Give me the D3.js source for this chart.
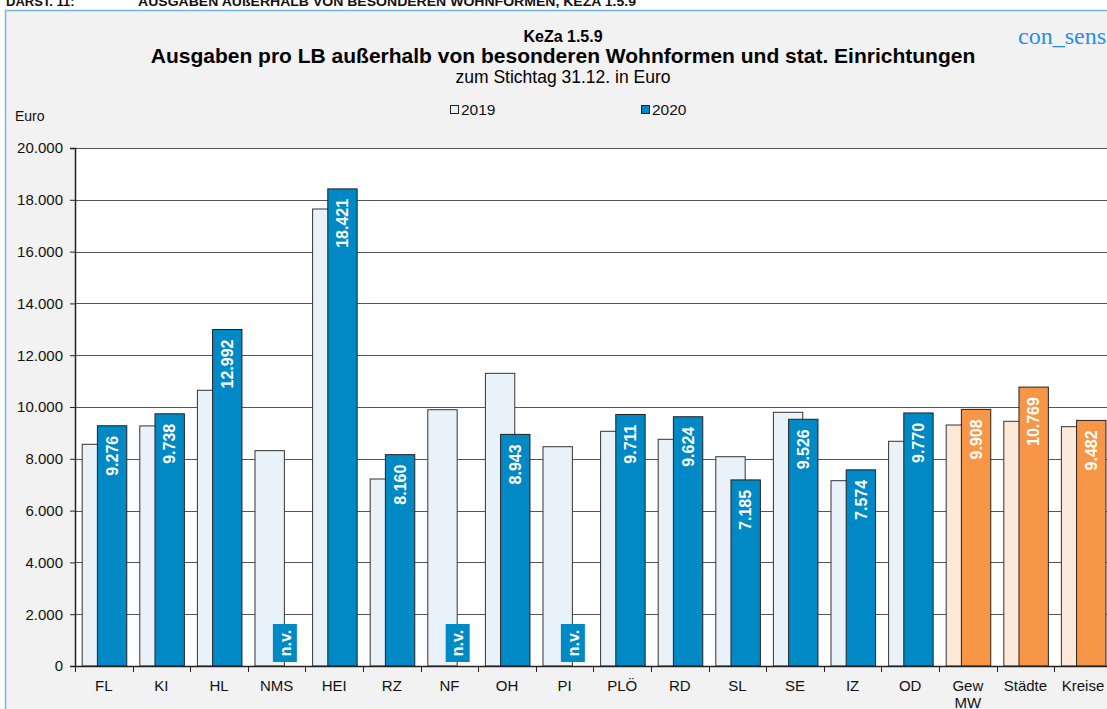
<!DOCTYPE html>
<html>
<head>
<meta charset="utf-8">
<script src="https://cdn.jsdelivr.net/npm/d3@7"></script>
<style>
  html, body { margin: 0; padding: 0; background: #fff; }
  svg { display: block; font-family: "Liberation Sans", Arial, sans-serif; }
</style>
</head>
<body>
<svg id="chart" width="1107" height="709"></svg>
<script>
// Werte
const categories = ["FL", "KI", "HL", "NMS", "HEI", "RZ", "NF", "OH", "PI", "PLÖ", "RD", "SL", "SE", "IZ", "OD", "Gew MW", "Städte", "Kreise"];
const values2019 = [8560, 9270, 10645, 8315, 17645, 7220, 9895, 11300, 8467, 9062, 8753, 8081, 9795, 7155, 8676, 9305, 9448, 9240];
const values2020 = [9276, 9738, 12992, null, 18421, 8160, null, 8943, null, 9711, 9624, 7185, 9526, 7574, 9770, 9908, 10769, 9482];
const summaryCats = ["Gew MW", "Städte", "Kreise"];
const seriesNames = ["2019", "2020"];
const yTicks = [0, 2000, 4000, 6000, 8000, 10000, 12000, 14000, 16000, 18000, 20000];

const de = d3.formatLocale({ decimal: ",", thousands: ".", grouping: [3], currency: ["", " €"] });
const fmt = de.format(",d");

const colors = {
    blue: "#0089c4", blueLight: "#eaf2f9",
    orange: "#f79646", orangeLight: "#fde9d9"
};

const svg = d3.select("#chart");

// Kopfzeile (oben abgeschnitten)
svg.append("text").attr("x", 6).attr("y", 6)
    .attr("font-size", 13).attr("font-weight", "bold").attr("fill", "#111")
    .text("DARST. 11:");
svg.append("text").attr("x", 138).attr("y", 6)
    .attr("font-size", 13).attr("font-weight", "bold").attr("fill", "#111")
    .attr("textLength", 498).attr("lengthAdjust", "spacingAndGlyphs")
    .text("AUSGABEN AUßERHALB VON BESONDEREN WOHNFORMEN, KEZA 1.5.9");

// Diagrammrahmen
svg.append("rect")
    .attr("x", 5.5).attr("y", 10.5)
    .attr("width", 1120).attr("height", 720)
    .attr("fill", "#f2f2f2")
    .attr("stroke", "#6cb8e0").attr("stroke-width", 1.5);

// Titel
svg.append("text").attr("x", 563).attr("y", 42)
    .attr("text-anchor", "middle").attr("font-size", 16).attr("font-weight", "bold")
    .text("KeZa 1.5.9");
svg.append("text").attr("x", 563).attr("y", 63)
    .attr("text-anchor", "middle").attr("font-size", 21).attr("font-weight", "bold")
    .text("Ausgaben pro LB außerhalb von besonderen Wohnformen und stat. Einrichtungen");
svg.append("text").attr("x", 563).attr("y", 83)
    .attr("text-anchor", "middle").attr("font-size", 17.5)
    .text("zum Stichtag 31.12. in Euro");
svg.append("text").attr("x", 1018).attr("y", 44)
    .attr("font-family", "'Liberation Serif', 'Times New Roman', serif")
    .attr("font-size", 24).attr("fill", "#1f8ff0")
    .text("con_sens");

// Legende
const legendX = [450, 641];
seriesNames.forEach((name, i) => {
    svg.append("rect")
        .attr("x", legendX[i] + 0.5).attr("y", 105.5)
        .attr("width", 8).attr("height", 8)
        .attr("fill", i === 0 ? colors.blueLight : colors.blue)
        .attr("stroke", "#222").attr("stroke-width", 1);
    svg.append("text")
        .attr("x", legendX[i] + 11).attr("y", 114.5)
        .attr("font-size", 15.5).attr("fill", "#111")
        .text(name);
});

svg.append("text").attr("x", 15).attr("y", 121)
    .attr("font-size", 14).attr("fill", "#111").text("Euro");

// Skalen
const plot = { left: 75, right: 75 + 18 * 57.6, top: 148, bottom: 666 };

const x = d3.scaleBand()
    .domain(categories)
    .range([plot.left, plot.right])
    .paddingInner(0).paddingOuter(0);

const y = d3.scaleLinear()
    .domain([0, 20000])
    .range([plot.bottom, plot.top]);

const bw = x.bandwidth();
const barW = bw * 0.51;
const offset19 = bw * 0.125;
const offset20 = offset19 + barW / 2 + 0.5;

// Zeichenfläche
svg.append("rect")
    .attr("x", plot.left).attr("y", plot.top)
    .attr("width", plot.right - plot.left).attr("height", plot.bottom - plot.top)
    .attr("fill", "#fff");

svg.append("g")
    .selectAll("line")
    .data(yTicks.filter(d => d > 0))
    .join("line")
    .attr("x1", plot.left).attr("x2", plot.right)
    .attr("y1", d => Math.round(y(d)) + 0.5).attr("y2", d => Math.round(y(d)) + 0.5)
    .attr("stroke", "#555").attr("stroke-width", 1);

// Balken 2019
svg.append("g")
    .selectAll("rect")
    .data(categories.map((c, i) => ({ c, v: values2019[i] })))
    .join("rect")
    .attr("x", d => x(d.c) + offset19)
    .attr("y", d => y(d.v))
    .attr("width", barW)
    .attr("height", d => y(0) - y(d.v))
    .attr("fill", d => summaryCats.includes(d.c) ? colors.orangeLight : colors.blueLight)
    .attr("stroke", "#333").attr("stroke-width", 1);

// Balken 2020
const data2020 = categories.map((c, i) => ({ c, v: values2020[i] }));

svg.append("g")
    .selectAll("rect")
    .data(data2020.filter(d => d.v != null))
    .join("rect")
    .attr("x", d => x(d.c) + offset20)
    .attr("y", d => y(d.v))
    .attr("width", barW)
    .attr("height", d => y(0) - y(d.v))
    .attr("fill", d => summaryCats.includes(d.c) ? colors.orange : colors.blue)
    .attr("stroke", "#222").attr("stroke-width", 1);

// Datenbeschriftungen
svg.append("g")
    .selectAll("text")
    .data(data2020.filter(d => d.v != null))
    .join("text")
    .attr("transform", d => `translate(${x(d.c) + offset20 + barW / 2},${y(d.v) + 10}) rotate(-90)`)
    .attr("text-anchor", "end")
    .attr("dy", "0.36em")
    .attr("font-size", 16).attr("font-weight", "bold").attr("fill", "#fff")
    .text(d => fmt(d.v));

// n.v. Kennzeichnung
const nv = svg.append("g")
    .selectAll("g")
    .data(data2020.filter(d => d.v == null))
    .join("g")
    .attr("transform", d => `translate(${x(d.c) + offset20 + barW / 2},${y(0) - 4})`);
nv.append("rect")
    .attr("x", -12).attr("y", -38)
    .attr("width", 24).attr("height", 38)
    .attr("fill", colors.blue);
nv.append("text")
    .attr("transform", "translate(0,-19) rotate(-90)")
    .attr("text-anchor", "middle").attr("dy", "0.36em")
    .attr("font-size", 16).attr("font-weight", "bold").attr("fill", "#fff")
    .text("n.v.");

// Achsen
const yAxis = svg.append("g")
    .attr("transform", `translate(${plot.left},0)`)
    .call(d3.axisLeft(y).tickValues(yTicks).tickFormat(fmt).tickSize(5).tickPadding(7));
yAxis.select(".domain").attr("stroke", "#222").attr("stroke-width", 1.5);
yAxis.selectAll(".tick line").attr("stroke", "#222");
yAxis.selectAll(".tick text").attr("font-size", 15).attr("fill", "#111")
    .attr("font-family", "'Liberation Sans', Arial, sans-serif");

const xAxis = svg.append("g")
    .attr("transform", `translate(0,${plot.bottom})`)
    .call(d3.axisBottom(x).tickSize(0).tickFormat(""));
xAxis.select(".domain").attr("stroke", "#222").attr("stroke-width", 1.5);

svg.append("g")
    .selectAll("line")
    .data(categories)
    .join("line")
    .attr("x1", d => Math.round(x(d)) + 0.5).attr("x2", d => Math.round(x(d)) + 0.5)
    .attr("y1", plot.bottom).attr("y2", plot.bottom + 6)
    .attr("stroke", "#222");

const xl = svg.append("g")
    .selectAll("text")
    .data(categories)
    .join("text")
    .attr("x", d => x(d) + bw / 2)
    .attr("y", plot.bottom + 25)
    .attr("text-anchor", "middle")
    .attr("font-size", 15).attr("fill", "#111");
xl.each(function (d) {
    const parts = d === "Gew MW" ? ["Gew", "MW"] : [d];
    parts.forEach((p, i) => {
        d3.select(this).append("tspan")
            .attr("x", x(d) + bw / 2)
            .attr("dy", i === 0 ? 0 : 17)
            .text(p);
    });
});
</script>
</body>
</html>
